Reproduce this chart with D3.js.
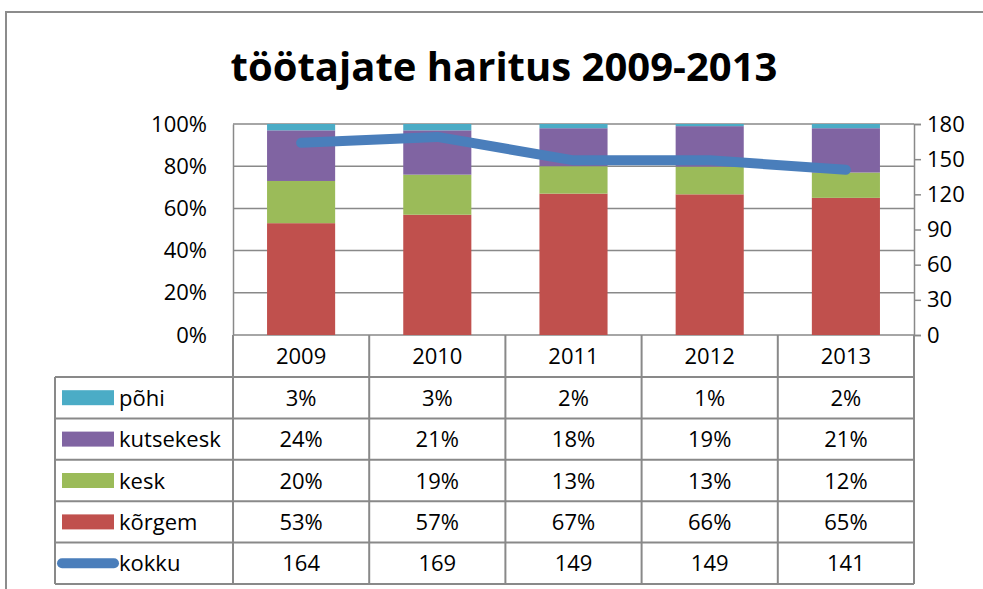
<!DOCTYPE html>
<html><head><meta charset="utf-8">
<script src="https://cdn.jsdelivr.net/npm/d3@7"></script>
<style>body{margin:0;background:#fff}svg{display:block}text{font-family:'Open Sans',sans-serif}</style>
</head><body>
<svg id="c" width="983" height="589"></svg>
<script>
const years = ["2009","2010","2011","2012","2013"];
const pohi = [3,3,2,1,2];
const kutsekesk = [24,21,18,19,21];
const kesk = [20,19,13,13,12];
const korgem = [53,57,67,66,65];
const kokku = [164,169,149,149,141];
const pctTicks = [0,0.2,0.4,0.6,0.8,1];
const rightTicks = [0,30,60,90,120,150,180];
const seriesNames = ["kõrgem","kesk","kutsekesk","põhi"];
const seriesColors = ["#C0504D","#9BBB59","#8064A2","#4BACC6"];
const lineColor = "#4A7EBB";

const svg = d3.select("#c");
const L = 233, R = 914, T = 124, B = 335;
const gridColor = "#898989";
const fs = 22;

// outer frame
svg.append("rect").attr("x",6).attr("y",12).attr("width",1100).attr("height",700)
  .attr("fill","none").attr("stroke","#8c8c8c").attr("stroke-width",2);

svg.append("text").attr("x",504).attr("y",81).attr("text-anchor","middle")
  .attr("font-size",40).attr("font-weight","bold").text("töötajate haritus 2009-2013");

const x = d3.scaleBand().domain(years).range([L,R]).paddingInner(0.5).paddingOuter(0.25);
const xc = d3.scaleBand().domain(years).range([L,R]);
const y = d3.scaleLinear().domain([0,1]).range([B,T]);
const y2 = d3.scaleLinear().domain([0,180]).range([B,T]);

// gridlines
svg.append("g").selectAll("line").data(pctTicks).join("line")
  .attr("x1",L).attr("x2",R).attr("y1",d=>y(d)).attr("y2",d=>y(d))
  .attr("stroke",gridColor).attr("stroke-width",1.5);

// left axis
const gl = svg.append("g").attr("transform",`translate(${L},0)`)
  .call(d3.axisLeft(y).tickValues(pctTicks).tickFormat(d3.format(".0%")).tickSize(0).tickPadding(26));
gl.select(".domain").attr("stroke",gridColor).attr("stroke-width",1.5);
gl.selectAll("text").attr("font-size",fs).attr("fill","#000").attr("font-family","'Open Sans',sans-serif");

// right axis
const gr = svg.append("g").attr("transform",`translate(${R},0)`)
  .call(d3.axisRight(y2).tickValues(rightTicks).tickSize(7).tickPadding(6));
gr.select(".domain").attr("stroke",gridColor).attr("stroke-width",1.5);
gr.selectAll("line").attr("stroke",gridColor).attr("stroke-width",1.5);
gr.selectAll("text").attr("font-size",fs).attr("fill","#000").attr("font-family","'Open Sans',sans-serif");

// stacked bars
const rows = years.map((yr,i)=>({year:yr,"kõrgem":korgem[i],"kesk":kesk[i],"kutsekesk":kutsekesk[i],"põhi":pohi[i]}));
const stack = d3.stack().keys(seriesNames).offset(d3.stackOffsetExpand)(rows);
svg.append("g").selectAll("g").data(stack).join("g").attr("fill",(d,i)=>seriesColors[i])
  .selectAll("rect").data(d=>d).join("rect")
  .attr("x",d=>x(d.data.year)).attr("width",x.bandwidth())
  .attr("y",d=>y(d[1])).attr("height",d=>y(d[0])-y(d[1]));

// line
const line = d3.line().x((d,i)=>xc(years[i])+xc.bandwidth()/2).y(d=>y2(d));
svg.append("path").datum(kokku).attr("d",line).attr("fill","none")
  .attr("stroke",lineColor).attr("stroke-width",10).attr("stroke-linecap","round").attr("stroke-linejoin","round");

// data table
const rowH = 41.4;
const headTop = B, headBot = 377;
const tableRows = [
  {name:"põhi",vals:pohi.map(v=>v+"%"),color:seriesColors[3],type:"rect"},
  {name:"kutsekesk",vals:kutsekesk.map(v=>v+"%"),color:seriesColors[2],type:"rect"},
  {name:"kesk",vals:kesk.map(v=>v+"%"),color:seriesColors[1],type:"rect"},
  {name:"kõrgem",vals:korgem.map(v=>v+"%"),color:seriesColors[0],type:"rect"},
  {name:"kokku",vals:kokku.map(String),color:lineColor,type:"line"}
];
const tL = 55;
const tb = svg.append("g");
const lineAttrs = s=>s.attr("stroke",gridColor).attr("stroke-width",2);
// header verticals
years.forEach((yr,i)=>{
  tb.append("line").attr("x1",xc(yr)).attr("x2",xc(yr)).attr("y1",headTop).attr("y2",headBot).call(lineAttrs);
  tb.append("text").attr("x",xc(yr)+xc.bandwidth()/2).attr("y",(headTop+headBot)/2+8)
    .attr("text-anchor","middle").attr("font-size",fs).text(yr);
});
tb.append("line").attr("x1",R).attr("x2",R).attr("y1",headTop).attr("y2",headBot).call(lineAttrs);
// body
const bodyBot = headBot + rowH*tableRows.length;
tableRows.forEach((r,k)=>{
  const top = headBot + rowH*k;
  const cy = top + rowH/2;
  tb.append("line").attr("x1",tL).attr("x2",R).attr("y1",top).attr("y2",top).call(lineAttrs);
  if(r.type==="rect"){
    tb.append("rect").attr("x",62).attr("y",cy-7.5).attr("width",52).attr("height",15).attr("fill",r.color);
  } else {
    tb.append("line").attr("x1",62).attr("x2",114).attr("y1",cy).attr("y2",cy)
      .attr("stroke",r.color).attr("stroke-width",10).attr("stroke-linecap","round");
  }
  tb.append("text").attr("x",119).attr("y",cy+8).attr("font-size",fs).text(r.name);
  r.vals.forEach((v,i)=>{
    tb.append("text").attr("x",xc(years[i])+xc.bandwidth()/2).attr("y",cy+8)
      .attr("text-anchor","middle").attr("font-size",fs).text(v);
  });
});
tb.append("line").attr("x1",tL).attr("x2",R).attr("y1",bodyBot).attr("y2",bodyBot).call(lineAttrs);
[tL, ...years.map(yr=>xc(yr)), R].forEach(xx=>{
  tb.append("line").attr("x1",xx).attr("x2",xx).attr("y1",headBot).attr("y2",bodyBot).call(lineAttrs);
});
</script>
</body></html>
